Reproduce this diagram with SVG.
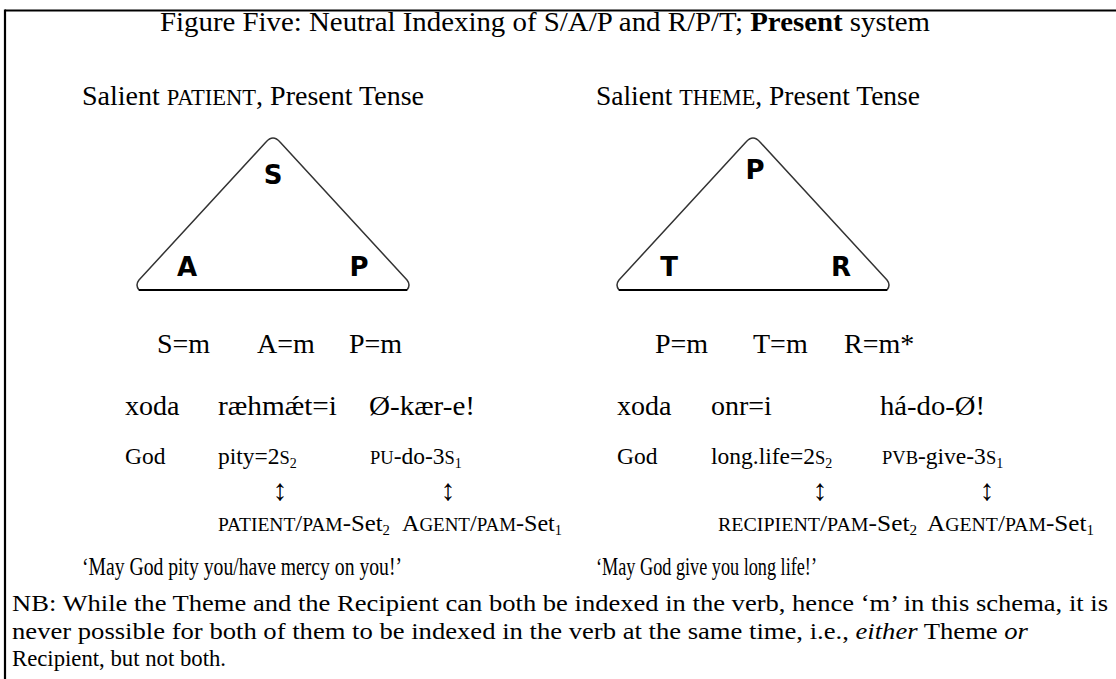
<svg xmlns="http://www.w3.org/2000/svg" width="1116" height="679" viewBox="0 0 1116 679">
<style>
.t{font-family:"Liberation Serif","Times New Roman",serif;fill:#000}
.big{font-size:28px}
.gl{font-size:23.5px}
.sc{font-size:18.5px}
.sub{font-size:14px}
.tri{fill:none;stroke:#333;stroke-width:1.5}
.base{stroke:#000;stroke-width:2}
.lbl{font-family:"DejaVu Sans",sans-serif;font-weight:bold;font-size:26px;fill:#000;text-anchor:middle}
.arr{font-family:"Liberation Serif","Times New Roman",serif;font-size:30px;text-anchor:middle}
.frame{stroke:#000;stroke-width:2.2;fill:none}
</style>
<rect width="1116" height="679" fill="#fff"/>
<g id="frame">
<line class="frame" x1="5" y1="10.5" x2="1116" y2="10.5"/>
<line class="frame" x1="5" y1="9.5" x2="5" y2="679"/>
</g>
<text id="title" class="t big" x="160" y="31" textLength="770" lengthAdjust="spacingAndGlyphs">Figure Five: Neutral Indexing of S/A/P and R/P/T; <tspan font-weight="bold">Present</tspan> system</text>

<g id="left-panel">
<text class="t big" x="82" y="105" textLength="342" lengthAdjust="spacingAndGlyphs">Salient <tspan font-size="22.5px">PATIENT</tspan>, Present Tense</text>
<g id="tri-left">
<path class="tri" d="M139,280 L266,142 Q273,134 280,142 L407,280 Q411,285 407,290 L139,290 Q135,285 139,280 Z"/>
<line class="base" x1="139" y1="290" x2="407" y2="290"/>
<text class="lbl" x="273" y="184">S</text>
<text class="lbl" x="187" y="276">A</text>
<text class="lbl" x="359" y="276">P</text>
</g>
<text class="t big" x="157" y="353">S=m</text>
<text class="t big" x="257" y="353">A=m</text>
<text class="t big" x="349" y="353">P=m</text>
<text class="t big" x="125" y="415">xoda</text>
<text class="t big" x="218" y="415" textLength="119" lengthAdjust="spacingAndGlyphs">ræhmǽt=i</text>
<text class="t big" x="369" y="415" textLength="106" lengthAdjust="spacingAndGlyphs">Ø-kær-e!</text>
<text class="t gl" x="125" y="464">God</text>
<text class="t gl" x="218" y="464">pity=2<tspan class="sc">S</tspan><tspan class="sub" dy="4">2</tspan></text>
<text class="t gl" x="370" y="464"><tspan class="sc">PU</tspan>-do-3<tspan class="sc">S</tspan><tspan class="sub" dy="4">1</tspan></text>
<text class="arr" x="280" y="499.5">↕</text>
<text class="arr" x="448" y="499.5">↕</text>
<text class="t gl" x="218" y="531" textLength="172" lengthAdjust="spacingAndGlyphs"><tspan class="sc">PATIENT</tspan>/<tspan class="sc">PAM</tspan>-Set<tspan class="sub" dy="4">2</tspan></text>
<text class="t gl" x="402" y="531" textLength="160" lengthAdjust="spacingAndGlyphs">A<tspan class="sc">GENT</tspan>/<tspan class="sc">PAM</tspan>-Set<tspan class="sub" dy="4">1</tspan></text>
<text class="t" font-size="25" x="82" y="575" textLength="320" lengthAdjust="spacingAndGlyphs">‘May God pity you/have mercy on you!’</text>
</g>

<g id="right-panel">
<text class="t big" x="596" y="105" textLength="324" lengthAdjust="spacingAndGlyphs">Salient <tspan font-size="22.5px">THEME</tspan>, Present Tense</text>
<g id="tri-right">
<path class="tri" d="M619,280 L746,142 Q753,134 760,142 L887,280 Q891,285 887,290 L619,290 Q615,285 619,280 Z"/>
<line class="base" x1="619" y1="290" x2="887" y2="290"/>
<text class="lbl" x="755" y="179">P</text>
<text class="lbl" x="669" y="276">T</text>
<text class="lbl" x="841" y="276">R</text>
</g>
<text class="t big" x="655" y="353">P=m</text>
<text class="t big" x="753" y="353">T=m</text>
<text class="t big" x="844" y="353">R=m*</text>
<text class="t big" x="617" y="415">xoda</text>
<text class="t big" x="711" y="415">onr=i</text>
<text class="t big" x="880" y="415" textLength="105" lengthAdjust="spacingAndGlyphs">há-do-Ø!</text>
<text class="t gl" x="617" y="464">God</text>
<text class="t gl" x="711" y="464">long.life=2<tspan class="sc">S</tspan><tspan class="sub" dy="4">2</tspan></text>
<text class="t gl" x="882" y="464"><tspan class="sc">PVB</tspan>-give-3<tspan class="sc">S</tspan><tspan class="sub" dy="4">1</tspan></text>
<text class="arr" x="820" y="499.5">↕</text>
<text class="arr" x="987" y="499.5">↕</text>
<text class="t gl" x="718" y="531" textLength="199" lengthAdjust="spacingAndGlyphs"><tspan class="sc">RECIPIENT</tspan>/<tspan class="sc">PAM</tspan>-Set<tspan class="sub" dy="4">2</tspan></text>
<text class="t gl" x="927" y="531" textLength="167" lengthAdjust="spacingAndGlyphs">A<tspan class="sc">GENT</tspan>/<tspan class="sc">PAM</tspan>-Set<tspan class="sub" dy="4">1</tspan></text>
<text class="t" font-size="25" x="596" y="575" textLength="221" lengthAdjust="spacingAndGlyphs">‘May God give you long life!’</text>
</g>

<g id="note">
<text class="t" font-size="24" x="12" y="611" textLength="1096" lengthAdjust="spacingAndGlyphs">NB: While the Theme and the Recipient can both be indexed in the verb, hence ‘m’ in this schema, it is</text>
<text class="t" font-size="24" x="12" y="639" textLength="1016" lengthAdjust="spacingAndGlyphs">never possible for both of them to be indexed in the verb at the same time, i.e., <tspan font-style="italic">either</tspan> Theme <tspan font-style="italic">or</tspan></text>
<text class="t" font-size="24" x="12" y="666" textLength="214" lengthAdjust="spacingAndGlyphs">Recipient, but not both.</text>
</g>
</svg>
